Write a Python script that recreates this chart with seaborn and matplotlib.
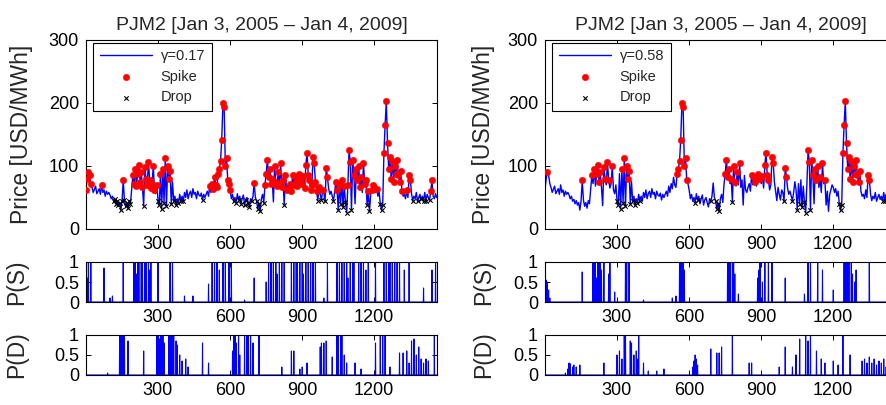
import numpy as np
import pandas as pd
import matplotlib
matplotlib.use("Agg")
import matplotlib.pyplot as plt
import seaborn as sns

# ─────────────────────────────────────────────
# DATA (read off the figure, price sampled every 5th day: 1, 6, ..., 1461)
# ─────────────────────────────────────────────
price = [
    # 1-96
    62, 80, 90, 86, 72, 66, 58, 63, 68, 56, 60, 64, 55, 70, 58, 62, 52, 60, 55, 58,
    # 101-196
    54, 48, 52, 44, 47, 40, 45, 38, 42, 30, 44, 77, 46, 36, 42, 33, 45, 40, 62, 85,
    # 201-296
    72, 95, 68, 88, 102, 75, 90, 66, 37, 98, 80, 70, 106, 78, 65, 72, 100, 62, 56, 70,
    # 301-396
    45, 38, 88, 32, 95, 42, 112, 36, 100, 80, 92, 40, 75, 44, 52, 38, 48, 42, 55, 45,
    # 401-496
    52, 44, 58, 50, 62, 48, 56, 60, 50, 64, 55, 58, 48, 60, 54, 52, 57, 46, 55, 50,
    # 501-596
    55, 60, 52, 68, 58, 72, 64, 82, 70, 66, 88, 96, 108, 142, 200, 193, 100, 112, 78, 72,
    # 601-696
    62, 48, 55, 44, 50, 42, 56, 46, 52, 40, 48, 54, 38, 46, 50, 42, 35, 48, 44, 52,
    # 701-796
    73, 50, 45, 32, 40, 28, 48, 55, 42, 70, 88, 110, 82, 95, 72, 80, 43, 100, 75, 68,
    # 801-896
    90, 70, 104, 66, 78, 38, 85, 62, 58, 66, 72, 60, 86, 70, 82, 75, 68, 88, 74, 80,
    # 901-996
    72, 84, 65, 101, 121, 86, 78, 62, 70, 115, 104, 74, 60, 45, 66, 55, 46, 62, 58, 44,
    # 1001-1096
    97, 82, 64, 55, 60, 52, 45, 58, 75, 62, 30, 72, 40, 78, 35, 68, 43, 26, 70, 125,
    # 1101-1196
    107, 30, 110, 85, 40, 95, 78, 100, 66, 82, 58, 104, 72, 78, 38, 60, 28, 55, 62, 70,
    # 1201-1296
    66, 58, 64, 52, 60, 40, 30, 38, 120, 165, 203, 137, 95, 115, 80, 108, 75, 100, 88, 110,
    # 1301-1396
    85, 75, 92, 60, 52, 55, 48, 62, 50, 86, 78, 56, 45, 52, 48, 58, 44, 50, 55, 47,
    # 1401-1461
    52, 45, 58, 44, 55, 50, 46, 60, 77, 52, 48, 56, 50,
]
days = np.arange(1, 1462, 5)

# spike / drop regimes (day windows) for each model
spike_win_left = [(1, 25), (60, 70), (150, 160), (195, 300), (305, 360), (515, 615),
                  (695, 705), (745, 1010), (1035, 1215), (1235, 1360), (1435, 1445)]
drop_win_left = [(110, 195), (235, 245), (290, 430), (480, 490), (595, 745), (815, 830),
                 (930, 1000), (1015, 1110), (1165, 1240), (1320, 1461)]
spike_win_right = [(8, 14), (150, 160), (195, 300), (315, 360), (550, 600), (745, 815),
                   (860, 1010), (1090, 1175), (1235, 1320), (1345, 1355)]
drop_win_right = [(300, 400), (625, 640), (685, 740), (775, 785), (990, 1000),
                  (1028, 1110), (1225, 1240), (1405, 1420)]
spike_cut = [60, 75]
drop_cut = 47

# P(S), P(D): days with non-zero probability
ps_left_days = [1, 6, 11, 21, 76, 101, 111, 156,
                201, 206, 211, 216, 221, 231, 236, 246, 251, 261, 266, 271, 301, 351, 361,
                411, 446, 511, 526, 536, 546, 556, 571, 581, 596, 606,
                661, 701, 751, 761, 771, 781, 791, 796, 806, 816, 826,
                856, 866, 876, 881, 891, 901, 906, 916, 926, 936, 946, 956,
                991, 1006, 1046, 1056, 1066, 1076, 1086, 1091, 1101, 1111, 1116,
                1136, 1146, 1156, 1166, 1176, 1206,
                1241, 1251, 1261, 1266, 1276, 1286, 1296, 1306, 1326, 1346, 1406, 1441, 1456]
ps_left_vals = [1, 0.6, 1, 1, 0.85, 0.1, 0.15, 1,
                1, 1, 0.7, 1, 1, 1, 1, 1, 1, 1, 0.8, 1, 1, 1, 1,
                0.15, 0.15, 0.45, 1, 1, 1, 0.8, 1, 1, 1, 1,
                0.05, 0.6, 0.5, 1, 1, 1, 1, 0.7, 1, 1, 1,
                1, 1, 1, 1, 1, 1, 0.7, 1, 1, 1, 1, 1,
                0.1, 1, 1, 1, 1, 1, 1, 0.6, 1, 1, 1,
                1, 1, 1, 0.8, 1, 1,
                1, 1, 1, 1, 1, 1, 1, 1, 0.8, 1, 0.35, 0.8, 1]

pd_left_days = [91, 141, 146, 151, 156, 161, 176, 241,
                296, 301, 306, 311, 316, 321, 326, 346, 351, 356, 361, 366, 376, 381,
                391, 401, 416, 426, 486, 511,
                611, 616, 621, 626, 636, 641, 661, 671, 676, 686, 696, 721,
                816, 856, 866, 891, 901, 921, 976, 981, 991, 1001, 1026,
                1046, 1051, 1061, 1066, 1076, 1086, 1121, 1146, 1206, 1226, 1236, 1246, 1266,
                1306, 1321, 1336, 1346, 1356, 1366, 1376, 1386, 1396, 1406, 1416, 1426, 1451]
pd_left_vals = [0.05, 1, 1, 1, 1, 1, 0.85, 0.6,
                1, 1, 0.9, 1, 1, 1, 0.8, 1, 1, 1, 1, 1, 0.85, 0.75,
                0.5, 0.35, 0.4, 0.2, 0.8, 0.3,
                0.6, 1, 1, 0.8, 1, 0.5, 1, 1, 1, 1, 0.8, 1,
                0.2, 0.6, 0.6, 0.15, 0.2, 0.3, 0.7, 0.8, 0.8, 0.85, 0.45,
                1, 1, 1, 1, 0.5, 0.3, 0.3, 0.15, 0.8, 1, 1, 1, 0.2,
                0.55, 0.55, 0.6, 0.3, 0.85, 0.9, 0.5, 0.7, 0.4, 0.3, 0.4, 0.35, 1]

ps_right_days = [1, 6, 11, 16, 21, 156,
                 201, 206, 211, 216, 221, 226, 231, 236, 246, 266, 271, 291, 336, 341, 351,
                 411, 531, 546, 561, 566, 571, 576, 581,
                 761, 766, 771, 781, 786, 791, 806,
                 886, 891, 896, 906, 916, 931, 946, 1001, 1081, 1096, 1106, 1136, 1156, 1201,
                 1246, 1251, 1256, 1261, 1266, 1276, 1281, 1291, 1296, 1351]
ps_right_vals = [0.5, 0.55, 0.5, 0.3, 0.1, 0.75,
                 1, 1, 1, 0.6, 1, 1, 1, 0.8, 1, 0.7, 1, 0.25, 1, 1, 1,
                 0.05, 0.1, 0.15, 1, 1, 1, 1, 0.8,
                 1, 1, 1, 1, 1, 0.7, 0.2,
                 0.6, 0.8, 1, 0.5, 1, 1, 1, 0.6, 0.2, 1, 1, 1, 0.8, 0.3,
                 1, 1, 1, 1, 1, 1, 0.7, 0.5, 0.8, 1]

pd_right_days = [86, 96, 101, 106, 116, 121, 131, 146, 246,
                 301, 311, 321, 331, 336, 356, 361, 371, 381, 386, 391, 411, 431, 466, 496,
                 616, 621, 626, 631, 636, 691, 716, 726, 736, 781,
                 851, 861, 976, 1001, 1031, 1046, 1061, 1086, 1096, 1106, 1131, 1151, 1166,
                 1201, 1221, 1241, 1271,
                 1321, 1331, 1341, 1351, 1361, 1371, 1381, 1391, 1401, 1411, 1421]
pd_right_vals = [0.05, 0.15, 0.3, 0.28, 0.2, 0.25, 0.2, 0.25, 0.3,
                 0.5, 0.6, 0.4, 1, 1, 0.85, 0.8, 0.5, 0.6, 0.4, 1, 0.3, 0.1, 0.1, 0.15,
                 0.2, 0.35, 0.5, 0.4, 0.25, 0.65, 0.55, 0.55, 0.7, 1,
                 0.3, 0.3, 0.2, 0.7, 0.2, 0.5, 0.9, 1, 0.85, 1, 0.6, 0.4, 0.3,
                 0.35, 0.25, 1, 0.5,
                 0.35, 0.4, 0.3, 0.45, 0.3, 0.4, 0.25, 0.35, 0.3, 0.4, 0.2]

gammas = ["\u03b3=0.17", "\u03b3=0.58"]
title = "PJM2 [Jan 3, 2005 \u2013 Jan 4, 2009]"

# ─────────────────────────────────────────────
# STYLE
# ─────────────────────────────────────────────
sns.set_style("ticks")
plt.rcParams["font.family"] = ["Liberation Sans", "DejaVu Sans"]
plt.rcParams["axes.linewidth"] = 0.8

BLUE = "#0000ff"
df = pd.DataFrame({"day": days, "price": price})
all_days = np.arange(1, 1463)


def in_windows(d, windows):
    m = np.zeros(len(d), dtype=bool)
    for a, b in windows:
        m |= (d >= a) & (d <= b)
    return m


def prob_series(pdays, pvals):
    # daily series, zero except on the listed days
    p = np.zeros(len(all_days))
    for d, v in zip(pdays, pvals):
        p[d - 1] = v
    return p


def style_axis(ax):
    ax.set_xlim(1, 1462)
    ax.set_xticks([300, 600, 900, 1200])
    ax.tick_params(direction="in", top=True, right=True, length=3.5, width=0.7,
                   labelsize=13, pad=5, colors="black")
    for s in ax.spines.values():
        s.set_visible(True)
        s.set_color("black")
    ax.set_xlabel("")


fig = plt.figure(figsize=(8.87, 4.05), dpi=100)

W = 351 / 887
panels = [
    (86 / 887, 0, spike_win_left, drop_win_left, ps_left_days, ps_left_vals,
     pd_left_days, pd_left_vals, -0.151, -0.165),
    (545 / 887, 1, spike_win_right, drop_win_right, ps_right_days, ps_right_vals,
     pd_right_days, pd_right_vals, -0.142, -0.142),
]

for (x0, k, swin, dwin, psd, psv, pdd, pdv, lab_x, plab_x) in panels:
    # price panel
    ax = fig.add_axes([x0, 0.4346, W, 0.4667])
    sns.lineplot(data=df, x="day", y="price", ax=ax, color=BLUE, linewidth=1.0,
                 estimator=None, sort=False, label=gammas[k], zorder=2)
    spikes = df[in_windows(df["day"].values, swin) & (df["price"] >= spike_cut[k])]
    drops = df[in_windows(df["day"].values, dwin) & (df["price"] <= drop_cut)]
    sns.scatterplot(data=spikes, x="day", y="price", ax=ax, color="#ff0000", marker="o",
                    s=22, edgecolor="#ff0000", linewidth=0.3, label="Spike", zorder=3)
    sns.scatterplot(data=drops, x="day", y="price", ax=ax, color="black", marker="x",
                    s=10, linewidth=0.8, label="Drop", zorder=3)
    ax.set_ylim(0, 300)
    ax.set_yticks([0, 100, 200, 300])
    style_axis(ax)
    ax.set_ylabel("Price [USD/MWh]", fontsize=16.5)
    ax.yaxis.set_label_coords(lab_x, 0.5)
    ax.set_title(title, fontsize=14, pad=7)
    leg = ax.legend(loc="upper left", bbox_to_anchor=(0.02, 0.985), borderaxespad=0,
                    fontsize=10.5, handlelength=3.6, handletextpad=0.6, scatterpoints=1,
                    fancybox=False, framealpha=1, edgecolor="black", borderpad=0.45,
                    labelspacing=0.45)
    leg.get_frame().set_linewidth(0.8)

    # P(S) and P(D) panels
    for bottom, pdays_, pvals_, name in [(0.2543, psd, psv, "P(S)"), (0.0741, pdd, pdv, "P(D)")]:
        axp = fig.add_axes([x0, bottom, W, 0.0988])
        sns.lineplot(x=all_days, y=prob_series(pdays_, pvals_), ax=axp, color=BLUE,
                     linewidth=0.8, estimator=None, sort=False)
        axp.set_ylim(0, 1)
        axp.set_yticks([0, 0.5, 1])
        axp.set_yticklabels(["0", "0.5", "1"])
        style_axis(axp)
        axp.set_ylabel(name, fontsize=16.5)
        axp.yaxis.set_label_coords(plab_x, 0.5)

fig.savefig("out.png", dpi=100)
